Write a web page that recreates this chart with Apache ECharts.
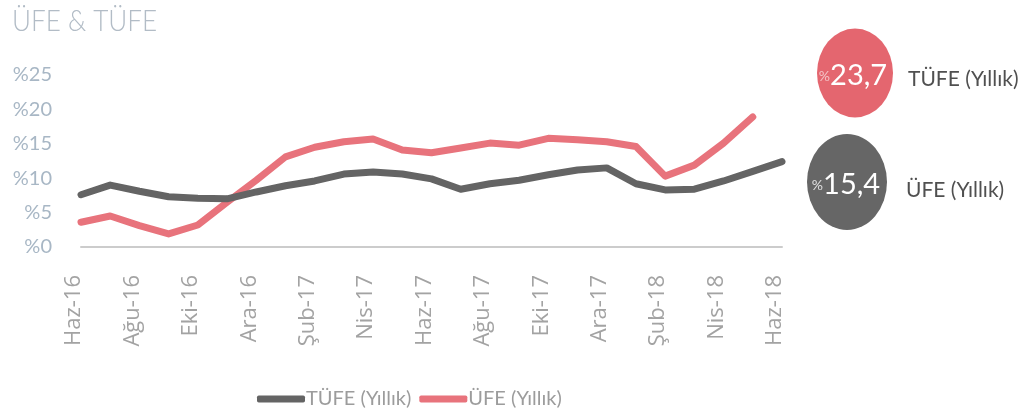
<!DOCTYPE html>
<html>
<head>
<meta charset="utf-8">
<script src="https://cdn.jsdelivr.net/npm/echarts@6/dist/echarts.min.js"></script>
<style>
html,body{margin:0;padding:0;background:#fff;}
#chart{width:1028px;height:419px;}
</style>
</head>
<body>
<div id="chart"></div>
<script>
const titleText = 'ÜFE & TÜFE';
const months = ['Haz-16','Tem-16','Ağu-16','Eyl-16','Eki-16','Kas-16','Ara-16',
  'Oca-17','Şub-17','Mar-17','Nis-17','May-17','Haz-17','Tem-17','Ağu-17','Eyl-17','Eki-17','Kas-17','Ara-17',
  'Oca-18','Şub-18','Mar-18','Nis-18','May-18','Haz-18'];
const tufeName = 'TÜFE (Yıllık)';
const ufeName = 'ÜFE (Yıllık)';
const tufeValues = [7.6, 9.0, 8.1, 7.3, 7.1, 7.0, 8.0, 8.9, 9.6, 10.6, 10.9, 10.6, 9.9, 8.4, 9.2, 9.7, 10.5, 11.2, 11.5, 9.2, 8.3, 8.4, 9.6, 11.0, 12.4];
const ufeValues = [3.6, 4.5, 3.1, 1.9, 3.2, 6.5, 9.7, 13.1, 14.5, 15.3, 15.7, 14.1, 13.7, 14.4, 15.1, 14.8, 15.8, 15.6, 15.3, 14.6, 10.3, 11.9, 15.1, 18.9];
const yTicks = [0, 5, 10, 15, 20, 25];
const badgeTop = {value: '23,7', label: 'TÜFE (Yıllık)'};
const badgeBottom = {value: '15,4', label: 'ÜFE (Yıllık)'};

const chart = echarts.init(document.getElementById('chart'));
chart.setOption({
  animation: false,
  backgroundColor: '#ffffff',
  legend: {
    left: 252, top: 384,
    itemWidth: 48, itemHeight: 7, itemGap: 8,
    icon: 'roundRect',
    textStyle: {fontFamily: 'Lato', fontSize: 20, color: '#9c9c9c', padding: [0, 0, 0, -4]},
    data: [tufeName, ufeName]
  },
  grid: {left: 81, right: 246, top: 75, bottom: 172},
  xAxis: {
    type: 'category', data: months, boundaryGap: false,
    axisTick: {show: false},
    axisLine: {lineStyle: {color: '#cccccc', width: 2}},
    axisLabel: {
      interval: 1, rotate: 90, margin: 28,
      fontFamily: 'Open Sans', fontSize: 22, color: '#a3a3a3',
      verticalAlign: 'bottom', lineHeight: 14
    }
  },
  yAxis: {
    type: 'value', min: 0, max: 25, interval: 5,
    splitLine: {show: false}, axisLine: {show: false}, axisTick: {show: false},
    axisLabel: {
      margin: 29, fontFamily: 'Lato', fontSize: 20, color: '#a8b7c5',
      formatter: v => yTicks.includes(v) ? '%' + v : ''
    }
  },
  series: [
    {name: tufeName, type: 'line', data: tufeValues, showSymbol: false, symbol: 'none',
      itemStyle: {color: '#646464'}, lineStyle: {width: 7, color: '#646464', cap: 'round', join: 'round'}, z: 3},
    {name: ufeName, type: 'line', data: ufeValues, showSymbol: false, symbol: 'none',
      itemStyle: {color: '#e8737c'}, lineStyle: {width: 7, color: '#e8737c', cap: 'round', join: 'round'}, z: 2}
  ],
  graphic: [
    {type: 'text', x: 12, y: 36, scaleX: 0.9, style: {
      text: titleText, fontFamily: 'Lato', fontWeight: 300, fontSize: 29, fill: '#b2bcc6', verticalAlign: 'bottom'
    }},
    {type: 'circle', x: 855, y: 73, scaleY: 1.17, shape: {cx: 0, cy: 0, r: 38}, style: {fill: '#e4666f'}},
    {type: 'text', x: 853, y: 76, style: {
      text: '{p|%}{v|' + badgeTop.value + '}', align: 'center', verticalAlign: 'middle',
      rich: {p: {fontFamily: 'Lato', fontSize: 14, fill: '#f4c3c6'}, v: {fontFamily: 'Lato', fontSize: 29, fill: '#ffffff'}}
    }},
    {type: 'text', x: 908, y: 79, style: {text: badgeTop.label, fontFamily: 'Lato', fontSize: 21, fill: '#505050', verticalAlign: 'middle'}},
    {type: 'circle', x: 847, y: 182, scaleY: 1.2, shape: {cx: 0, cy: 0, r: 40}, style: {fill: '#666666'}},
    {type: 'text', x: 846, y: 185, style: {
      text: '{p|%}{v|' + badgeBottom.value + '}', align: 'center', verticalAlign: 'middle',
      rich: {p: {fontFamily: 'Lato', fontSize: 14, fill: '#e0e0e0'}, v: {fontFamily: 'Lato', fontSize: 29, fill: '#ffffff'}}
    }},
    {type: 'text', x: 906, y: 190, style: {text: badgeBottom.label, fontFamily: 'Lato', fontSize: 21, fill: '#505050', verticalAlign: 'middle'}}
  ]
});
</script>
</body>
</html>
